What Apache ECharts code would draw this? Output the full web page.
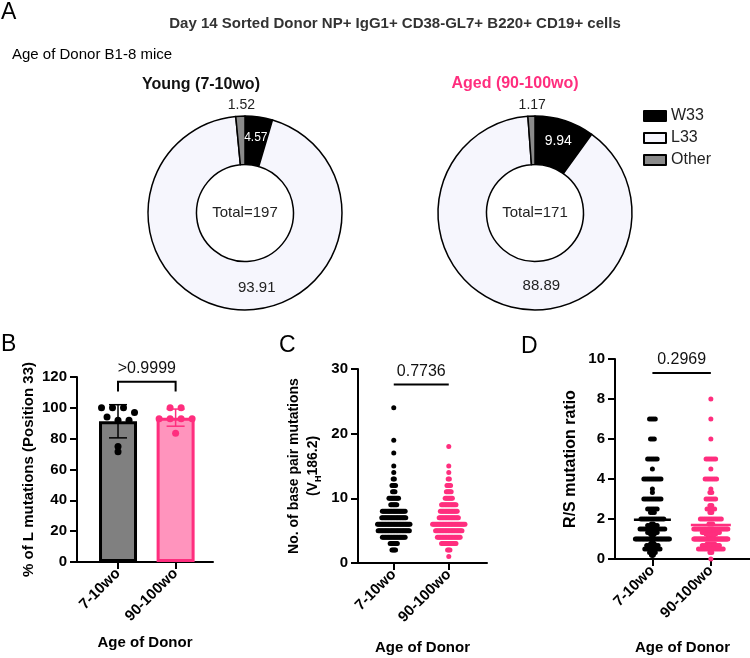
<!DOCTYPE html>
<html>
<head>
<meta charset="utf-8">
<script src="https://cdn.jsdelivr.net/npm/echarts/dist/echarts.min.js"></script>
<style>
  html, body { margin: 0; padding: 0; background: #fff; }
  #main { width: 750px; height: 658px; }
</style>
</head>
<body>
<div id="main"></div>
<script>
// ---- data ----
const groups = ['7-10wo', '90-100wo'];
const pieNames = ['W33', 'L33', 'Other'];
const youngPct = [4.57, 93.91, 1.52];
const agedPct = [9.94, 88.89, 1.17];
const youngTotal = 197;
const agedTotal = 171;

// B: % of L mutations (position 33), one value per mouse
const pctLYoung = [100, 100, 100, 97, 94, 92, 92, 75, 71.5];
const pctLAged = [100, 100, 93, 93, 93, 93, 83.5];

// C: base pair mutations, [value, number of sequences]
const bpYoung = [[24,1],[19,1],[17,1],[15,1],[14,1],[13,2],[12,4],[11,3],[10,9],[9,6],[8,20],[7,21],[6,28],[5,27],[4,20],[3,7],[2,4]];
const bpAged = [[18,1],[15,1],[14,1],[13,2],[12,4],[11,5],[10,7],[9,13],[8,15],[7,17],[6,28],[5,23],[4,20],[3,13],[2,3],[1,1]];

// D: R/S mutation ratio, [value, number of sequences]
const rsYoung = [[7,4],[6,3],[5,6],[4.5,1],[4,10],[3.5,1],[3.33,1],[3,10],[2.5,6],[2.33,3],[2,13],[1.75,2],[1.67,6],[1.5,14],[1.4,2],[1.33,6],[1.25,3],[1.2,2],[1,26],[0.8,2],[0.75,3],[0.67,7],[0.6,2],[0.5,9],[0.4,2],[0.33,4],[0.25,2],[0.2,2],[0.17,1]];
const rsAged = [[8,1],[7,1],[6,1],[5,6],[4.5,1],[4,7],[3.5,1],[3.33,2],[3,6],[2.67,2],[2.5,5],[2.33,2],[2,12],[1.75,3],[1.5,25],[1.33,10],[1.25,6],[1.2,4],[1,40],[0.75,5],[0.67,10],[0.5,14],[0.33,2],[0,1]];

const pValues = ['>0.9999', '0.7736', '0.2969'];

// ---- helpers ----
const FONT = '"Liberation Sans", Arial, sans-serif';
const PINK = '#ff2e7e';
const pieColors = ['#000000', '#f6f6fd', '#8a8a8a'];

function expand(hist) {
  const out = [];
  hist.forEach(([v, n]) => { for (let i = 0; i < n; i++) out.push(v); });
  return out;
}
function meanOf(a) { return a.reduce((s, v) => s + v, 0) / a.length; }
function sdOf(a) {
  const m = meanOf(a);
  return Math.sqrt(a.reduce((s, v) => s + (v - m) * (v - m), 0) / (a.length - 1));
}
// rows of dots, like prism's scatter dot plot
function swarm(values, xc, cfg) {
  const sorted = values.slice().sort((a, b) => b - a);
  const rows = [];
  sorted.forEach(v => {
    const r = rows[rows.length - 1];
    if (r && r[0] - v <= cfg.gap) r.push(v); else rows.push([v]);
  });
  const pts = [];
  rows.forEach(r => {
    const n = r.length;
    let st = cfg.step;
    if (n > 1 && (n - 1) * st > cfg.maxW) st = cfg.maxW / (n - 1);
    r.forEach((v, i) => pts.push([xc + (i - (n - 1) / 2) * st, v]));
  });
  return pts;
}

// panel geometry (B, C, D)
const panels = [
  { left: 77, top: 377, width: 136, height: 185, xmin: 0.288, xmax: 2.649, ppu: 57.6, ymax: 120, yint: 20,
    name: '% of L mutations (Position 33)', nameSize: 15, nameGap: 36, xNameGap: 73 },
  { left: 358, top: 369, width: 129, height: 194, xmin: 0.35, xmax: 2.695, ppu: 55, ymax: 30, yint: 10,
    name: 'No. of base pair mutations\n(V{sub|H}186.2)', nameSize: 14, nameGap: 35, xNameGap: 77 },
  { left: 615, top: 359, width: 135, height: 200, xmin: 0.36, xmax: 2.67, ppu: 58.4, ymax: 10, yint: 2,
    name: 'R/S mutation ratio', nameSize: 16, nameGap: 35, xNameGap: 81 }
];

const axisLineStyle = { color: '#000', width: 2 };
const boldLabel = { color: '#000', fontWeight: 'bold', fontSize: 15, fontFamily: FONT };

const grids = panels.map(p => ({ left: p.left, top: p.top, width: p.width, height: p.height }));
const xAxes = panels.map((p, i) => ({
  type: 'value', gridIndex: i, min: p.xmin, max: p.xmax,
  axisLine: { lineStyle: axisLineStyle },
  axisTick: { customValues: [1, 2], length: 7, lineStyle: axisLineStyle },
  axisLabel: Object.assign({ customValues: [1, 2], formatter: v => groups[Math.round(v) - 1], rotate: 45, margin: 9 }, boldLabel),
  splitLine: { show: false },
  name: 'Age of Donor', nameLocation: 'middle', nameGap: p.xNameGap,
  nameTextStyle: { color: '#000', fontWeight: 'bold', fontSize: 15, fontFamily: FONT }
}));
const yAxes = panels.map((p, i) => ({
  type: 'value', gridIndex: i, min: 0, max: p.ymax, interval: p.yint,
  axisLine: { show: true, onZero: false, lineStyle: axisLineStyle },
  axisTick: { show: true, length: 7, lineStyle: axisLineStyle },
  axisLabel: Object.assign({ margin: 10 }, boldLabel),
  splitLine: { show: false },
  name: p.name, nameLocation: 'middle', nameGap: p.nameGap,
  nameTextStyle: {
    color: '#000', fontWeight: 'bold', fontSize: p.nameSize, fontFamily: FONT, lineHeight: 19,
    rich: { sub: { fontSize: 9, fontWeight: 'bold', fontFamily: FONT, verticalAlign: 'bottom', color: '#000' } }
  }
}));

// ---- series ----
const series = [];

function pieSeries(pcts, center, w33Size, l33Shift) {
  return {
    type: 'pie', center: center, radius: [48.5, 97], startAngle: 90, clockwise: true,
    silent: true, animation: false,
    itemStyle: { borderColor: '#000', borderWidth: 1.5 },
    label: { position: 'inside', fontFamily: FONT, fontSize: 14, color: '#222', formatter: p => p.value.toFixed(2) },
    labelLine: { show: false },
    labelLayout: p => p.dataIndex === 1 ? { dx: l33Shift[0], dy: l33Shift[1] } : (p.dataIndex === 2 ? { dy: -32 } : {}),
    data: pieNames.map((n, i) => ({
      name: n, value: pcts[i], itemStyle: { color: pieColors[i] },
      label: i === 0 ? { color: '#fff', fontSize: w33Size } : (i === 1 ? { fontSize: 15 } : {})
    }))
  };
}
series.push(pieSeries(youngPct, [245, 213], 12, [19, -1]));
series.push(pieSeries(agedPct, [535, 213], 14, [27, 0]));

// B: bars with SD and dots
const meanBY = meanOf(pctLYoung), meanBA = meanOf(pctLAged);
series.push({
  type: 'bar', xAxisIndex: 0, yAxisIndex: 0, barWidth: 38, z: 2, silent: true,
  data: [
    { value: [1, meanBY], itemStyle: { color: '#808080', borderColor: '#000', borderWidth: 3 } },
    { value: [2, meanBA], itemStyle: { color: '#ff94bd', borderColor: PINK, borderWidth: 3 } }
  ]
});
series.push({
  type: 'custom', xAxisIndex: 0, yAxisIndex: 0, z: 3, silent: true,
  data: [[1, meanBY, sdOf(pctLYoung)], [2, meanBA, sdOf(pctLAged)]],
  renderItem: (params, api) => {
    const x = api.value(0), m = api.value(1), sd = api.value(2);
    const t = api.coord([x, m + sd]), b = api.coord([x, m - sd]);
    const col = params.dataIndex === 0 ? '#000' : PINK;
    const w = 9, st = { stroke: col, lineWidth: 1.5 };
    return { type: 'group', children: [
      { type: 'line', shape: { x1: t[0], y1: t[1], x2: b[0], y2: b[1] }, style: st },
      { type: 'line', shape: { x1: t[0] - w, y1: t[1], x2: t[0] + w, y2: t[1] }, style: st },
      { type: 'line', shape: { x1: b[0] - w, y1: b[1], x2: b[0] + w, y2: b[1] }, style: st }
    ] };
  }
});

const dotSets = [
  { panel: 0, y: pctLYoung, a: pctLAged, size: 7, gap: 3.2, stepPx: 11, maxPx: 60 },
  { panel: 1, y: expand(bpYoung), a: expand(bpAged), size: 5, gap: 0, stepPx: 1.2, maxPx: 40 },
  { panel: 2, y: expand(rsYoung), a: expand(rsAged), size: 5, gap: 0, stepPx: 1.9, maxPx: 34 }
];
dotSets.forEach(d => {
  const ppu = panels[d.panel].ppu;
  const cfg = { gap: d.gap, step: d.stepPx / ppu, maxW: d.maxPx / ppu };
  [[d.y, 1, '#000'], [d.a, 2, PINK]].forEach(([vals, xc, col]) => {
    series.push({
      type: 'scatter', xAxisIndex: d.panel, yAxisIndex: d.panel, z: 4, silent: true,
      symbolSize: d.size, itemStyle: { color: col, opacity: 1 },
      data: swarm(vals, xc, cfg)
    });
  });
});

// D: mean lines
series.push({
  type: 'custom', xAxisIndex: 2, yAxisIndex: 2, z: 5, silent: true,
  data: [[1, meanOf(expand(rsYoung))], [2, meanOf(expand(rsAged))]],
  renderItem: (params, api) => {
    const c = api.coord([api.value(0), api.value(1)]);
    const hw = params.dataIndex === 0 ? 18.5 : 20;
    return { type: 'line', shape: { x1: c[0] - hw, y1: c[1], x2: c[0] + hw, y2: c[1] },
      style: { stroke: params.dataIndex === 0 ? '#000' : PINK, lineWidth: 2.5 } };
  }
});

// significance brackets: [panel, level, drop]
const sigLines = [[0, 117, 6.4], [1, 27.6, 0], [2, 9.3, 0]];
sigLines.forEach(([pi, level, drop]) => {
  series.push({
    type: 'custom', xAxisIndex: pi, yAxisIndex: pi, z: 6, silent: true, clip: false,
    data: [[1, 2, level, drop]],
    renderItem: (params, api) => {
      const l = api.coord([api.value(0), api.value(2)]);
      const r = api.coord([api.value(1), api.value(2)]);
      const dropPx = api.value(3) ? api.coord([1, api.value(2) - api.value(3)])[1] : l[1];
      const st = { stroke: '#000', lineWidth: 2, fill: null };
      return { type: 'group', children: [
        { type: 'polyline', shape: { points: [[l[0], dropPx], l, r, [r[0], dropPx]] }, style: st },
        { type: 'text', x: (l[0] + r[0]) / 2, y: l[1] - 5,
          style: { text: pValues[pi], align: 'center', verticalAlign: 'bottom', fontSize: 16, fontFamily: FONT, fill: '#111' } }
      ] };
    }
  });
});

// ---- static text ----
function txt(text, x, y, size, opts) {
  return Object.assign({ type: 'text', x: x, y: y, silent: true,
    style: Object.assign({ text: text, fontSize: size, fontFamily: FONT, fill: '#000', align: 'left', verticalAlign: 'middle' }, opts || {}) });
}
const graphic = [
  txt('A', 1, 13, 23),
  txt('Day 14 Sorted Donor NP+ IgG1+ CD38-GL7+ B220+ CD19+ cells', 395, 24, 15, { align: 'center', fontWeight: 'bold', fill: '#333' }),
  txt('Age of Donor B1-8 mice', 12, 55, 15),
  txt('Young (7-10wo)', 201, 85, 16, { align: 'center', fontWeight: 'bold', fill: '#111' }),
  txt('Aged (90-100wo)', 515, 84, 16, { align: 'center', fontWeight: 'bold', fill: PINK }),
  txt('Total=' + youngTotal, 245, 213, 15, { align: 'center', fill: '#222' }),
  txt('Total=' + agedTotal, 535, 213, 15, { align: 'center', fill: '#222' }),
  txt('B', 1, 345, 23),
  txt('C', 279, 346, 23),
  txt('D', 521, 347, 23)
];

const chart = echarts.init(document.getElementById('main'));
chart.setOption({
  backgroundColor: '#fff',
  animation: false,
  textStyle: { fontFamily: FONT },
  legend: {
    data: pieNames, orient: 'vertical', left: 638, top: 103, icon: 'rect',
    itemWidth: 22, itemHeight: 10, itemGap: 6, selectedMode: false,
    textStyle: { fontSize: 16, color: '#222', fontFamily: FONT }
  },
  grid: grids,
  xAxis: xAxes,
  yAxis: yAxes,
  graphic: graphic,
  series: series
});
</script>
</body>
</html>
